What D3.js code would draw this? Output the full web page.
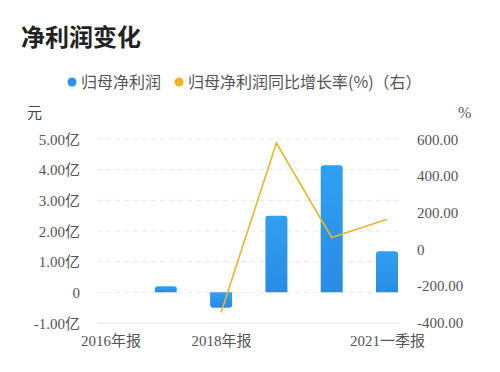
<!DOCTYPE html>
<html>
<head>
<meta charset="utf-8">
<script src="https://cdn.jsdelivr.net/npm/d3@7"></script>
<style>
  body { margin: 0; background: #fff; }
  svg { display: block; }
  .tick text { font-family: "Liberation Serif", "Noto Sans CJK SC", serif; font-size: 15px; fill: #555; }
</style>
</head>
<body>
<div id="graphic"></div>
<script>
// data
var categories = ["2016年报", "2017年报", "2018年报", "2019年报", "2020年报", "2021一季报"];
var profit = [null, 0.2, -0.5, 2.5, 4.14, 1.34];          // 归母净利润, 亿元
var growth = [null, null, -348, 578, 62, 162];            // 同比增长率, %
var leftTicks = [-1, 0, 1, 2, 3, 4, 5];
var rightTicks = [-400, -200, 0, 200, 400, 600];
var xLabels = ["2016年报", "2018年报", "2021一季报"];

var width = 500, height = 372;
var svg = d3.select('#graphic').append('svg')
  .attr('width', width)
  .attr('height', height);

var cjk = '"Noto Sans CJK SC", sans-serif';
var fmt = d => d == 0 ? '0' : d3.format('.2f')(d).replace('−', '-');

// title
svg.append('text')
  .attr('x', 21).attr('y', 46)
  .style('font-family', cjk)
  .style('font-size', '24px')
  .style('font-weight', 'bold')
  .attr('fill', '#222')
  .text('净利润变化');

// legend
var legend = [
  {label: '归母净利润', colour: '#2e93e8', x: 72},
  {label: '归母净利润同比增长率(%)（右）', colour: '#f0b429', x: 179}
];
var lg = svg.selectAll('g.legend').data(legend).join('g')
  .attr('class', 'legend')
  .attr('transform', d => 'translate(' + d.x + ',82)');
lg.append('circle').attr('r', 4.5).attr('fill', d => d.colour);
lg.append('text')
  .attr('x', 9).attr('dy', 5.5)
  .style('font-family', cjk)
  .style('font-size', '16px')
  .attr('fill', '#555')
  .text(d => d.label);

// units
svg.append('text').attr('x', 27).attr('y', 118)
  .style('font-family', cjk).style('font-size', '15px').attr('fill', '#444').text('元');
svg.append('text').attr('x', 458).attr('y', 118)
  .style('font-family', '"Liberation Serif", serif').style('font-size', '16px').attr('fill', '#555').text('%');

// scales
var plotLeft = 97, plotRight = 400;
var x = d3.scalePoint().domain(categories).range([110.5, 387]);
var yL = d3.scaleLinear().domain([-1, 5]).range([323, 139]);
var yR = d3.scaleLinear().domain([-400, 600]).range([322, 139]);

// gridlines
svg.append('g').selectAll('line').data(leftTicks.filter(d => d > -1)).join('line')
  .attr('x1', plotLeft).attr('x2', plotRight)
  .attr('y1', d => yL(d)).attr('y2', d => yL(d))
  .attr('stroke', '#e6e6e6')
  .attr('stroke-dasharray', '5,4');
svg.append('line')
  .attr('x1', plotLeft).attr('x2', plotRight)
  .attr('y1', yL(-1)).attr('y2', yL(-1))
  .attr('stroke', '#e3e3e3');

// left axis
var leftAxis = d3.axisLeft(yL).tickValues(leftTicks).tickSize(0).tickPadding(0)
  .tickFormat(d => d == 0 ? '0' : fmt(d) + '亿');
svg.append('g').attr('transform', 'translate(80,0)').call(leftAxis)
  .call(g => g.select('.domain').remove())
  .selectAll('text').attr('dy', '0.35em');

// right axis
var rightAxis = d3.axisRight(yR).tickValues(rightTicks).tickSize(0).tickPadding(0)
  .tickFormat(fmt);
svg.append('g').attr('transform', 'translate(417,0)').call(rightAxis)
  .call(g => g.select('.domain').remove())
  .selectAll('text').attr('dy', '0.35em');

// bottom axis labels
var xAxis = d3.axisBottom(x).tickValues(xLabels).tickSize(0).tickPadding(0);
svg.append('g').attr('transform', 'translate(0,335)').call(xAxis)
  .call(g => g.select('.domain').remove())
  .selectAll('text').attr('dy', '0.71em');

// bar gradient
var grad = svg.append('defs').append('linearGradient')
  .attr('id', 'barGrad').attr('x1', 0).attr('x2', 0).attr('y1', 0).attr('y2', 1);
grad.append('stop').attr('offset', '0%').attr('stop-color', '#30a0f0');
grad.append('stop').attr('offset', '100%').attr('stop-color', '#2a8be4');

// bars with rounded outer end
var barW = 22, r = 3;
var bars = categories.map((c, i) => ({cat: c, v: profit[i]})).filter(d => d.v != null);
function barPath(d) {
  var cx = x(d.cat), x0 = cx - barW / 2, x1 = cx + barW / 2;
  var y0 = yL(0), y1 = yL(d.v);
  var s = y1 < y0 ? 1 : -1;
  var rr = Math.min(r, Math.abs(y0 - y1));
  return 'M' + x0 + ',' + y0 +
    'L' + x0 + ',' + (y1 + s * rr) +
    'Q' + x0 + ',' + y1 + ',' + (x0 + rr) + ',' + y1 +
    'L' + (x1 - rr) + ',' + y1 +
    'Q' + x1 + ',' + y1 + ',' + x1 + ',' + (y1 + s * rr) +
    'L' + x1 + ',' + y0 + 'Z';
}
svg.append('g').selectAll('path').data(bars).join('path')
  .attr('d', barPath)
  .attr('fill', 'url(#barGrad)');

// growth line
var line = d3.line()
  .defined(d => d != null)
  .x((d, i) => x(categories[i]))
  .y(d => yR(d));
svg.append('path')
  .datum(growth)
  .attr('d', line)
  .attr('fill', 'none')
  .attr('stroke', '#e9b52c')
  .attr('stroke-width', 1.6);
</script>
</body>
</html>
